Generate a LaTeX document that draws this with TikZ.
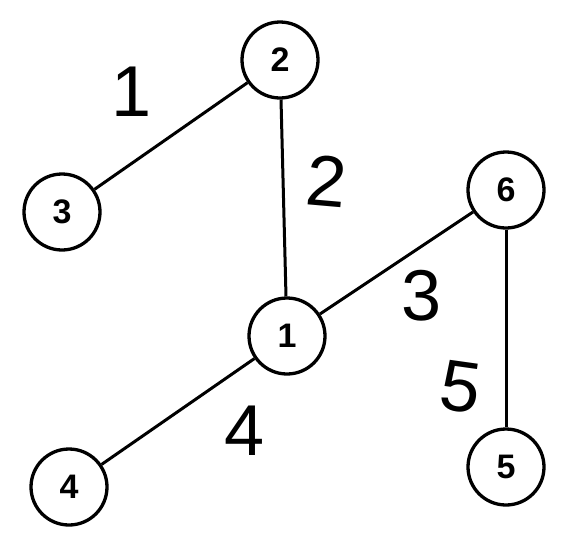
\documentclass[tikz,border=0pt]{standalone}
\usepackage{fontspec}
\setmainfont{Liberation Sans}
\begin{document}
\begin{tikzpicture}[x=1pt,y=-1pt,
  vtx/.style={circle,draw,line width=3.3pt,minimum size=76pt,inner sep=0pt,fill=white,font=\bfseries\fontsize{34}{34}\selectfont},
  edge/.style={line width=3pt},
  wlab/.style={inner sep=0pt,font=\fontsize{72}{72}\selectfont}]
\useasboundingbox (0,0) rectangle (570,550);
\node[vtx] (n2) at (280,60) {2};
\node[vtx] (n3) at (62,212) {3};
\node[vtx] (n6) at (506,190) {6};
\node[vtx] (n1) at (287,336) {1};
\node[vtx] (n4) at (69,487) {4};
\node[vtx] (n5) at (506,467) {5};
\draw[edge] (n2) -- (n3);
\draw[edge] (n2) -- (n1);
\draw[edge] (n1) -- (n6);
\draw[edge] (n1) -- (n4);
\draw[edge] (n6) -- (n5);
\node[wlab] (w1) at (132,92) {1};
\node[wlab,rotate=-5] (w2) at (327,181) {2};
\node[wlab] (w3) at (422,296) {3};
\node[wlab] (w4) at (245,431) {4};
\node[wlab,rotate=-8] (w5) at (461,387) {5};
\end{tikzpicture}
\end{document}
